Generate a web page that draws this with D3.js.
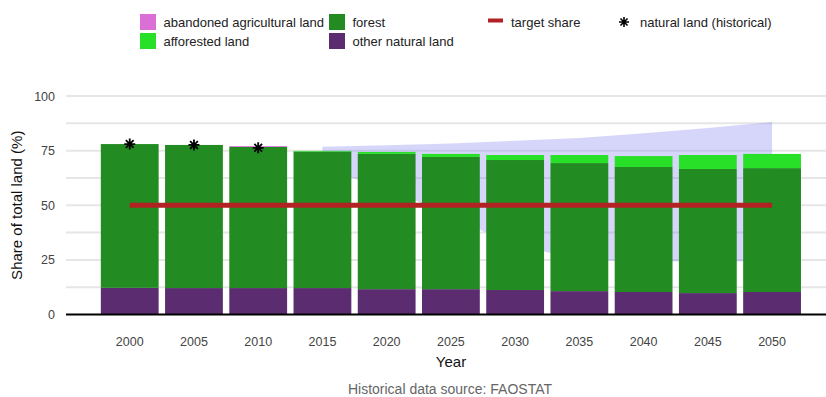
<!DOCTYPE html>
<html>
<head>
<meta charset="utf-8">
<script src="https://cdn.jsdelivr.net/npm/d3@7"></script>
<style>
  html, body { margin: 0; padding: 0; background: #fff; }
  svg { display: block; font-family: "Liberation Sans", Arial, Helvetica, sans-serif; }
</style>
</head>
<body>
<svg id="chart" width="826" height="397"></svg>
<script>
// ---- data ----
const years = ["2000","2005","2010","2015","2020","2025","2030","2035","2040","2045","2050"];
const otherNatural = [12.2, 12.1, 12.1, 12.1, 11.6, 11.6, 11.2, 10.7, 10.3, 9.8, 10.3];
const forest       = [65.8, 65.5, 64.6, 62.5, 61.9, 60.5, 59.5, 58.6, 57.2, 56.8, 56.7];
const afforested   = [0, 0, 0, 0.3, 0.9, 1.4, 2.3, 3.7, 5.0, 6.4, 6.5];
const abandoned    = [0, 0, 0.4, 0, 0, 0, 0, 0, 0, 0, 0];
const targetShare  = [50, 50, 50, 50, 50, 50, 50, 50, 50, 50, 50];
const histYears    = ["2000","2005","2010"];
const histNatural  = [78.0, 77.6, 76.3];
const bandYears    = ["2015","2020","2025","2030","2035","2040","2045","2050"];
const bandLow      = [66, 58.5, 44.5, 32, 25, 24.2, 24.2, 24.2];
const bandHigh     = [76.8, 77.5, 78.3, 79.5, 80.8, 82.9, 85.3, 88.1];
const yTicks       = [0, 25, 50, 75, 100];
const gridTicks    = [12.5, 25, 37.5, 50, 62.5, 75, 87.5, 100];

const seriesKeys   = ["other", "forest", "afforested", "abandoned"];
const seriesColors = {other: "#5b2d70", forest: "#228b22", afforested: "#29e029", abandoned: "#da70d6"};

// ---- build table ----
const rows = years.map((yr, i) => ({
  year: yr, other: otherNatural[i], forest: forest[i], afforested: afforested[i], abandoned: abandoned[i]
}));

const svg = d3.select("#chart");
const x = d3.scaleBand().domain(years).range([94.4, 807.4]).paddingInner(0.1).paddingOuter(0.1);
const y = d3.scaleLinear().domain([0, 100]).range([314.5, 96]);
const cx = d => x(d) + x.bandwidth() / 2;

// gridlines
svg.append("g").selectAll("line").data(gridTicks).join("line")
  .attr("x1", 66).attr("x2", 826)
  .attr("y1", d => y(d)).attr("y2", d => y(d))
  .attr("stroke", "#e6e6e6").attr("stroke-width", 2);

// uncertainty band
const area = d3.area()
  .x((d, i) => cx(bandYears[i]))
  .y0((d, i) => y(bandLow[i]))
  .y1((d, i) => y(bandHigh[i]));
svg.append("path").datum(bandYears).attr("d", area)
  .attr("fill", "rgb(120,120,240)").attr("fill-opacity", 0.3);

// stacked bars
const stack = d3.stack().keys(seriesKeys)(rows);
svg.append("g").selectAll("g").data(stack).join("g")
  .attr("fill", s => seriesColors[s.key])
  .selectAll("rect").data(s => s).join("rect")
  .attr("x", d => x(d.data.year))
  .attr("width", x.bandwidth())
  .attr("y", d => y(d[1]))
  .attr("height", d => Math.max(0, y(d[0]) - y(d[1])));

// axis baseline
svg.append("line").attr("x1", 66).attr("x2", 826).attr("y1", y(0)).attr("y2", y(0))
  .attr("stroke", "#000").attr("stroke-width", 2);

// target share line
const tline = d3.line().x((d, i) => cx(years[i])).y(d => y(d));
svg.append("path").datum(targetShare).attr("d", tline)
  .attr("fill", "none").attr("stroke", "#b22222").attr("stroke-width", 5);

// historical stars
function starPath(r) {
  const a = r * Math.SQRT1_2;
  return `M0,${-r}L0,${r}M${-r},0L${r},0M${-a},${-a}L${a},${a}M${-a},${a}L${a},${-a}`;
}
svg.append("g").selectAll("path").data(histNatural).join("path")
  .attr("transform", (d, i) => `translate(${cx(histYears[i])},${y(d)})`)
  .attr("d", starPath(5.5))
  .attr("stroke", "#000").attr("stroke-width", 1.8).attr("fill", "none");

// x axis labels
const xAxis = d3.axisBottom(x).tickSize(0).tickPadding(0);
const gx = svg.append("g").attr("transform", `translate(0,${y(0)})`).call(xAxis);
gx.select(".domain").remove();
gx.selectAll("text").attr("dy", null).attr("y", 31).attr("font-size", 12.5)
  .attr("fill", "#444").attr("font-family", "Liberation Sans, Arial, sans-serif");

// y axis labels
const yAxis = d3.axisLeft(y).tickValues(yTicks).tickSize(0).tickPadding(0);
const gy = svg.append("g").attr("transform", "translate(55,0)").call(yAxis);
gy.select(".domain").remove();
gy.selectAll("text").attr("font-size", 12.5).attr("fill", "#444")
  .attr("font-family", "Liberation Sans, Arial, sans-serif");

// axis titles
svg.append("text").attr("x", 451).attr("y", 367).attr("text-anchor", "middle")
  .attr("font-size", 15).attr("fill", "#111").text("Year");
svg.append("text").attr("transform", `translate(22,${(y(0)+y(100))/2}) rotate(-90)`)
  .attr("text-anchor", "middle").attr("font-size", 15).attr("fill", "#111")
  .text("Share of total land (%)");
svg.append("text").attr("x", 450).attr("y", 394).attr("text-anchor", "middle")
  .attr("font-size", 14).attr("fill", "#666").text("Historical data source: FAOSTAT");

// legend
const legendItems = [
  {label: "abandoned agricultural land", type: "rect", color: seriesColors.abandoned, x: 140, row: 0},
  {label: "afforested land", type: "rect", color: seriesColors.afforested, x: 140, row: 1},
  {label: "forest", type: "rect", color: seriesColors.forest, x: 329, row: 0},
  {label: "other natural land", type: "rect", color: seriesColors.other, x: 329, row: 1},
  {label: "target share", type: "line", color: "#b22222", x: 488, row: 0},
  {label: "natural land (historical)", type: "star", color: "#000", x: 617, row: 0}
];
const lg = svg.append("g").selectAll("g").data(legendItems).join("g")
  .attr("transform", d => `translate(${d.x},${14 + d.row * 19})`);
lg.filter(d => d.type === "rect").append("rect")
  .attr("width", 16).attr("height", 16).attr("fill", d => d.color);
lg.filter(d => d.type === "line").append("rect")
  .attr("y", 4.5).attr("width", 15).attr("height", 4).attr("fill", d => d.color);
lg.filter(d => d.type === "star").append("path")
  .attr("transform", "translate(7,8)").attr("d", starPath(5))
  .attr("stroke", "#000").attr("stroke-width", 1.6).attr("fill", "none");
lg.append("text")
  .attr("x", d => d.type === "rect" ? 23.5 : (d.type === "line" ? 23 : 23))
  .attr("y", 12.5).attr("font-size", 13).attr("fill", "#222").text(d => d.label);
</script>
</body>
</html>
